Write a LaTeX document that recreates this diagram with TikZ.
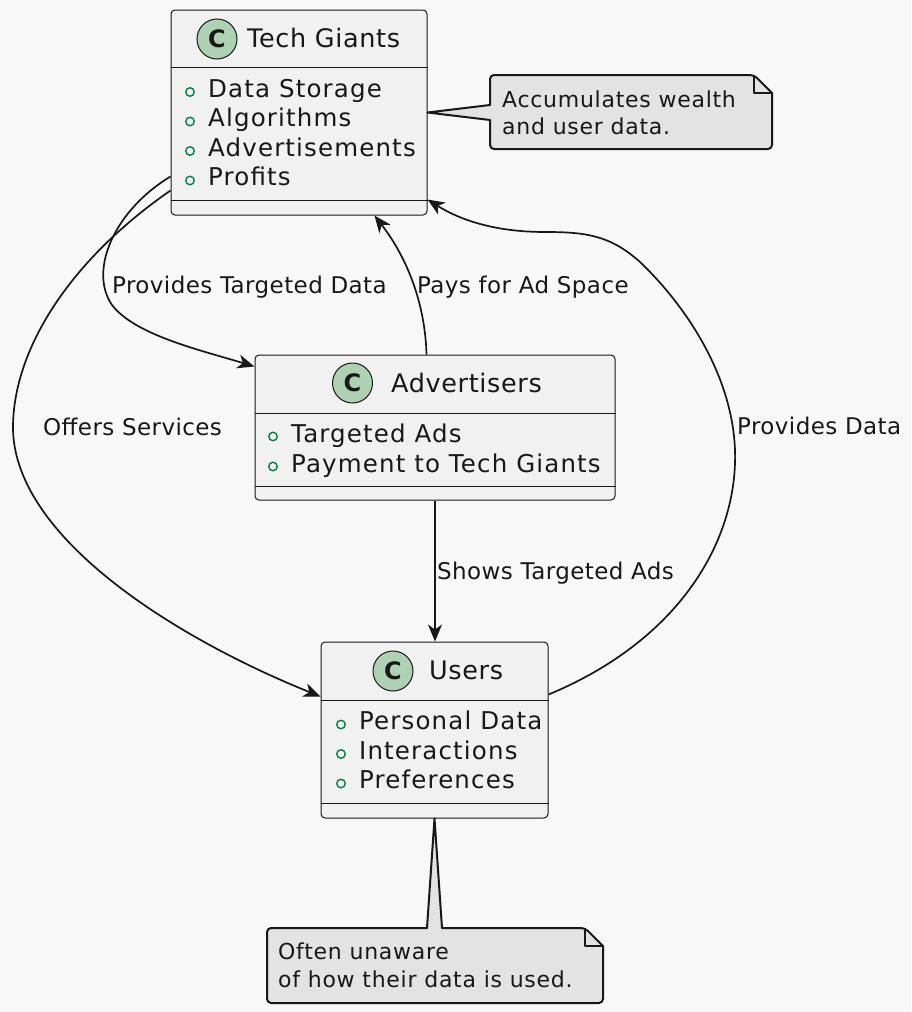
\documentclass[tikz,border=0pt]{standalone}
\usepackage{fontspec}
\setmainfont{DejaVu Sans}
\newfontfamily\attrfont[LetterSpace=4.7]{DejaVu Sans}
\newfontfamily\namefont[LetterSpace=2.5]{DejaVu Sans}
\newfontfamily\lblfont[LetterSpace=1.8]{DejaVu Sans}
\newfontfamily\notefont[LetterSpace=3.3]{DejaVu Sans}
\usetikzlibrary{arrows.meta,calc}
\definecolor{bg}{HTML}{F8F8F8}
\definecolor{boxfill}{HTML}{F1F1F1}
\definecolor{notefill}{HTML}{E3E3E3}
\definecolor{circfill}{HTML}{ADD1B2}
\definecolor{attrgreen}{HTML}{038048}
\definecolor{ink}{HTML}{181818}
\begin{document}
\begin{tikzpicture}[x=1pt,y=-1pt,
  classbox/.style={draw=ink, fill=boxfill, rounded corners=4pt, line width=1pt, inner sep=0pt},
  cname/.style={font=\namefont\fontsize{25.5}{30}\selectfont, anchor=base west, inner sep=0pt, text=ink},
  attr/.style={font=\attrfont\fontsize{24.5}{29}\selectfont, anchor=base west, inner sep=0pt, text=ink},
  lbl/.style={font=\lblfont\fontsize{23}{28}\selectfont, anchor=base west, inner sep=0pt, text=ink},
  ntext/.style={font=\notefont\fontsize{22}{27}\selectfont, anchor=base west, inner sep=0pt, text=ink},
  spot/.style={circle, draw=ink, fill=circfill, line width=1pt, minimum size=40pt, inner sep=0pt, text=ink, font=\bfseries\fontsize{24}{24}\selectfont},
  bullet/.style={circle, draw=attrgreen, line width=1.4pt, minimum size=8.5pt, inner sep=0pt},
  sepline/.style={draw=ink, line width=1pt},
  conn/.style={draw=ink, line width=1.7pt, -{Stealth[length=17pt,width=14pt,inset=5pt]}},
  notebox/.style={draw=ink, fill=notefill, line width=2pt, line join=round},
  noteline/.style={draw=ink, line width=2pt, line join=round},
  area/.style={inner sep=0pt, outer sep=0pt}
]
\fill[bg] (0,0) rectangle (911,1012);
\useasboundingbox (0,0) rectangle (911,1012);

% ---------- classes ----------
\node[classbox, minimum width=256pt, minimum height=205pt] (tg) at (299,112.5) {};
\node[classbox, minimum width=360pt, minimum height=145pt] (adv) at (435,427.5) {};
\node[classbox, minimum width=227pt, minimum height=176pt] (usr) at (434.5,730) {};

% Tech Giants
\node[spot] (tgc) at (217,39) {C};
\node[cname] (tgn) at (247,47) {Tech Giants};
\draw[sepline] (tg.west |- 0,67) -- (tg.east |- 0,67);
\draw[sepline] (tg.west |- 0,200) -- (tg.east |- 0,200);
\node[bullet] (tgb1) at (190,92) {};
\node[bullet] (tgb2) at (190,121.5) {};
\node[bullet] (tgb3) at (190,151) {};
\node[bullet] (tgb4) at (190,180.5) {};
\node[attr] (tga1) at (208,97) {Data Storage};
\node[attr] (tga2) at (208,126.5) {Algorithms};
\node[attr] (tga3) at (208,156) {Advertisements};
\node[attr] (tga4) at (208,185.5) {Profits};

% Advertisers
\node[spot] (advc) at (352.5,383) {C};
\node[cname] (advn) at (391,392) {Advertisers};
\draw[sepline] (adv.west |- 0,413) -- (adv.east |- 0,413);
\draw[sepline] (adv.west |- 0,486) -- (adv.east |- 0,486);
\node[bullet] (advb1) at (273,436.5) {};
\node[bullet] (advb2) at (273,466.5) {};
\node[attr] (adva1) at (291,442) {Targeted Ads};
\node[attr] (adva2) at (291,472) {Payment to Tech Giants};

% Users
\node[spot] (usrc) at (393,671) {C};
\node[cname] (usrn) at (429,679) {Users};
\draw[sepline] (usr.west |- 0,700) -- (usr.east |- 0,700);
\draw[sepline] (usr.west |- 0,803) -- (usr.east |- 0,803);
\node[bullet] (usrb1) at (341,724.5) {};
\node[bullet] (usrb2) at (341,754) {};
\node[bullet] (usrb3) at (341,783.5) {};
\node[attr] (usra1) at (359,729.5) {Personal Data};
\node[attr] (usra2) at (359,759) {Interactions};
\node[attr] (usra3) at (359,788.5) {Preferences};

% ---------- notes ----------
\node[area, minimum width=282pt, minimum height=74pt] (n1) at (631,112) {};
\draw[notebox] (tg.east) -- (490,105) [rounded corners=4pt] -- (490,75) -- (754,75) [sharp corners] -- (772,93) [rounded corners=4pt] -- (772,149) -- (490,149) [sharp corners] -- (490,120) -- cycle;
\draw[noteline] (754,75) -- (754,93) -- (772,93);
\node[ntext] (n1a) at (502,107) {Accumulates wealth};
\node[ntext] (n1b) at (502,134) {and user data.};

\node[area, minimum width=336pt, minimum height=75pt] (n2) at (435,965.5) {};
\draw[notebox] (usr.south) -- (442,928) [rounded corners=4pt] -- (585,928) [sharp corners] -- (603,946) [rounded corners=4pt] -- (603,1003) -- (267,1003) -- (267,928) [sharp corners] -- (427,928) -- cycle;
\draw[noteline] (585,928) -- (585,946) -- (603,946);
\node[ntext] (n2a) at (278,959) {Often unaware};
\node[ntext] (n2b) at (278,987) {of how their data is used.};

% ---------- connectors ----------
\draw[conn] ([yshift=-167pt]tg.north west) .. controls (115,210) and (88,270) .. (112,305)
   .. controls (135,335) and (200,350) .. ([yshift=-12pt]adv.north west);
\draw[conn] ([yshift=-181pt]tg.north west) .. controls (70,260) and (12,350) .. (13,430)
   .. controls (16,540) and (180,640) .. ([yshift=-55pt]usr.north west);
\draw[conn] ([xshift=172pt]adv.north west) .. controls (425,300) and (405,255) .. ([xshift=204pt]tg.south west);
\draw[conn] ([yshift=-53pt]usr.north east) .. controls (680,640) and (738,540) .. (735,450)
   .. controls (732,370) and (680,300) .. (640,262)
   .. controls (610,235) and (585,232) .. (545,232)
   .. controls (495,232) and (460,220) .. ([yshift=-190pt]tg.north east);
\draw[conn] (adv.south) -- (adv.south |- usr.north);

% ---------- labels ----------
\node[lbl] (l1) at (112,293) {Provides Targeted Data};
\node[lbl] (l2) at (417,293) {Pays for Ad Space};
\node[lbl] (l3) at (43,435) {Offers Services};
\node[lbl] (l4) at (737,434) {Provides Data};
\node[lbl] (l5) at (437,579) {Shows Targeted Ads};
\end{tikzpicture}
\end{document}
